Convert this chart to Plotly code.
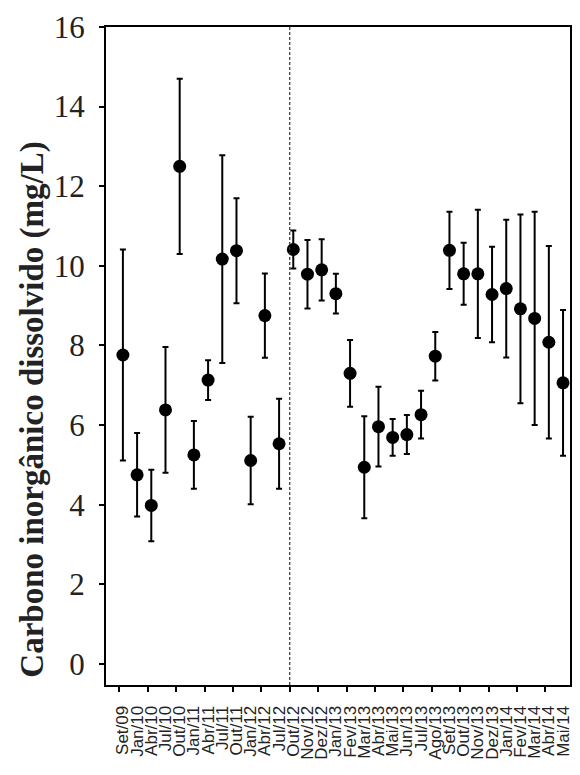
import plotly.graph_objects as go

# Sampling campaigns (month/year)
months = ["Set/09", "Jan/10", "Abr/10", "Jul/10", "Out/10", "Jan/11", "Abr/11", "Jul/11",
          "Out/11", "Jan/12", "Abr/12", "Jul/12", "Out/12", "Nov/12", "Dez/12", "Jan/13",
          "Fev/13", "Mar/13", "Abr/13", "Mai/13", "Jun/13", "Jul/13", "Ago/13", "Set/13",
          "Out/13", "Nov/13", "Dez/13", "Jan/14", "Fev/14", "Mar/14", "Abr/14", "Mai/14"]

# Mean dissolved inorganic carbon (mg/L) and standard deviation
dic_mean = [7.76, 4.75, 3.98, 6.38, 12.5, 5.25, 7.13, 10.17,
            10.38, 5.11, 8.75, 5.53, 10.41, 9.79, 9.90, 9.30,
            7.30, 4.94, 5.96, 5.69, 5.76, 6.26, 7.73, 10.39,
            9.80, 9.80, 9.28, 9.43, 8.92, 8.68, 8.08, 7.06]
dic_sd = [2.65, 1.05, 0.90, 1.58, 2.20, 0.85, 0.50, 2.61,
          1.32, 1.10, 1.06, 1.13, 0.48, 0.86, 0.77, 0.50,
          0.84, 1.28, 1.00, 0.46, 0.49, 0.60, 0.61, 0.97,
          0.78, 1.61, 1.20, 1.73, 2.37, 2.68, 2.42, 1.83]

# Axis ticks: every second campaign; boundary between the two sampling periods
x_tick_positions = [2 * k - 0.25 for k in range(16)]
period_split = 11.75
y_ticks = [0, 2, 4, 6, 8, 10, 12, 14, 16]

idx = list(range(len(months)))

fig = go.Figure()
fig.add_trace(go.Scatter(
    x=idx, y=dic_mean, mode="markers",
    marker=dict(color="black", size=13),
    error_y=dict(type="data", array=dic_sd, visible=True,
                 color="black", thickness=2, width=3),
    showlegend=False,
))

fig.add_shape(type="line", xref="x", yref="paper",
              x0=period_split, x1=period_split, y0=0, y1=1,
              line=dict(color="#333333", width=1.2, dash="3px,2px"))

fig.update_layout(
    width=580, height=775,
    margin=dict(l=106, r=7, t=27, b=90),
    paper_bgcolor="white", plot_bgcolor="white",
    xaxis=dict(
        range=[-1.19, 31.49],
        tickmode="array", tickvals=idx, ticktext=months,
        tickangle=-90, ticks="", ticklabelstandoff=12,
        tickfont=dict(family="Liberation Sans, Arial, sans-serif", size=17, color="#222"),
        showline=True, linecolor="black", linewidth=2, mirror=True,
        showgrid=False, zeroline=False,
        minor=dict(tickmode="array", tickvals=x_tick_positions, ticks="outside",
                   ticklen=5, tickwidth=1.5, tickcolor="black", showgrid=False),
    ),
    yaxis=dict(
        range=[-0.53, 16.0],
        tickmode="array", tickvals=y_ticks,
        ticks="outside", ticklen=5, tickwidth=1.5, tickcolor="black",
        ticklabelstandoff=8,
        tickfont=dict(family="Liberation Serif, Times New Roman, serif", size=31, color="#222"),
        showline=True, linecolor="black", linewidth=2, mirror=True,
        showgrid=False, zeroline=False,
    ),
    annotations=[dict(
        text="<b>Carbono inorgânico dissolvido (mg/L)</b>",
        xref="paper", yref="paper", x=-0.158, y=0.418,
        xanchor="center", yanchor="middle", textangle=-90, showarrow=False,
        font=dict(family="Liberation Serif, Times New Roman, serif", size=33, color="#222"),
    )],
)

fig.write_html("out.html")
